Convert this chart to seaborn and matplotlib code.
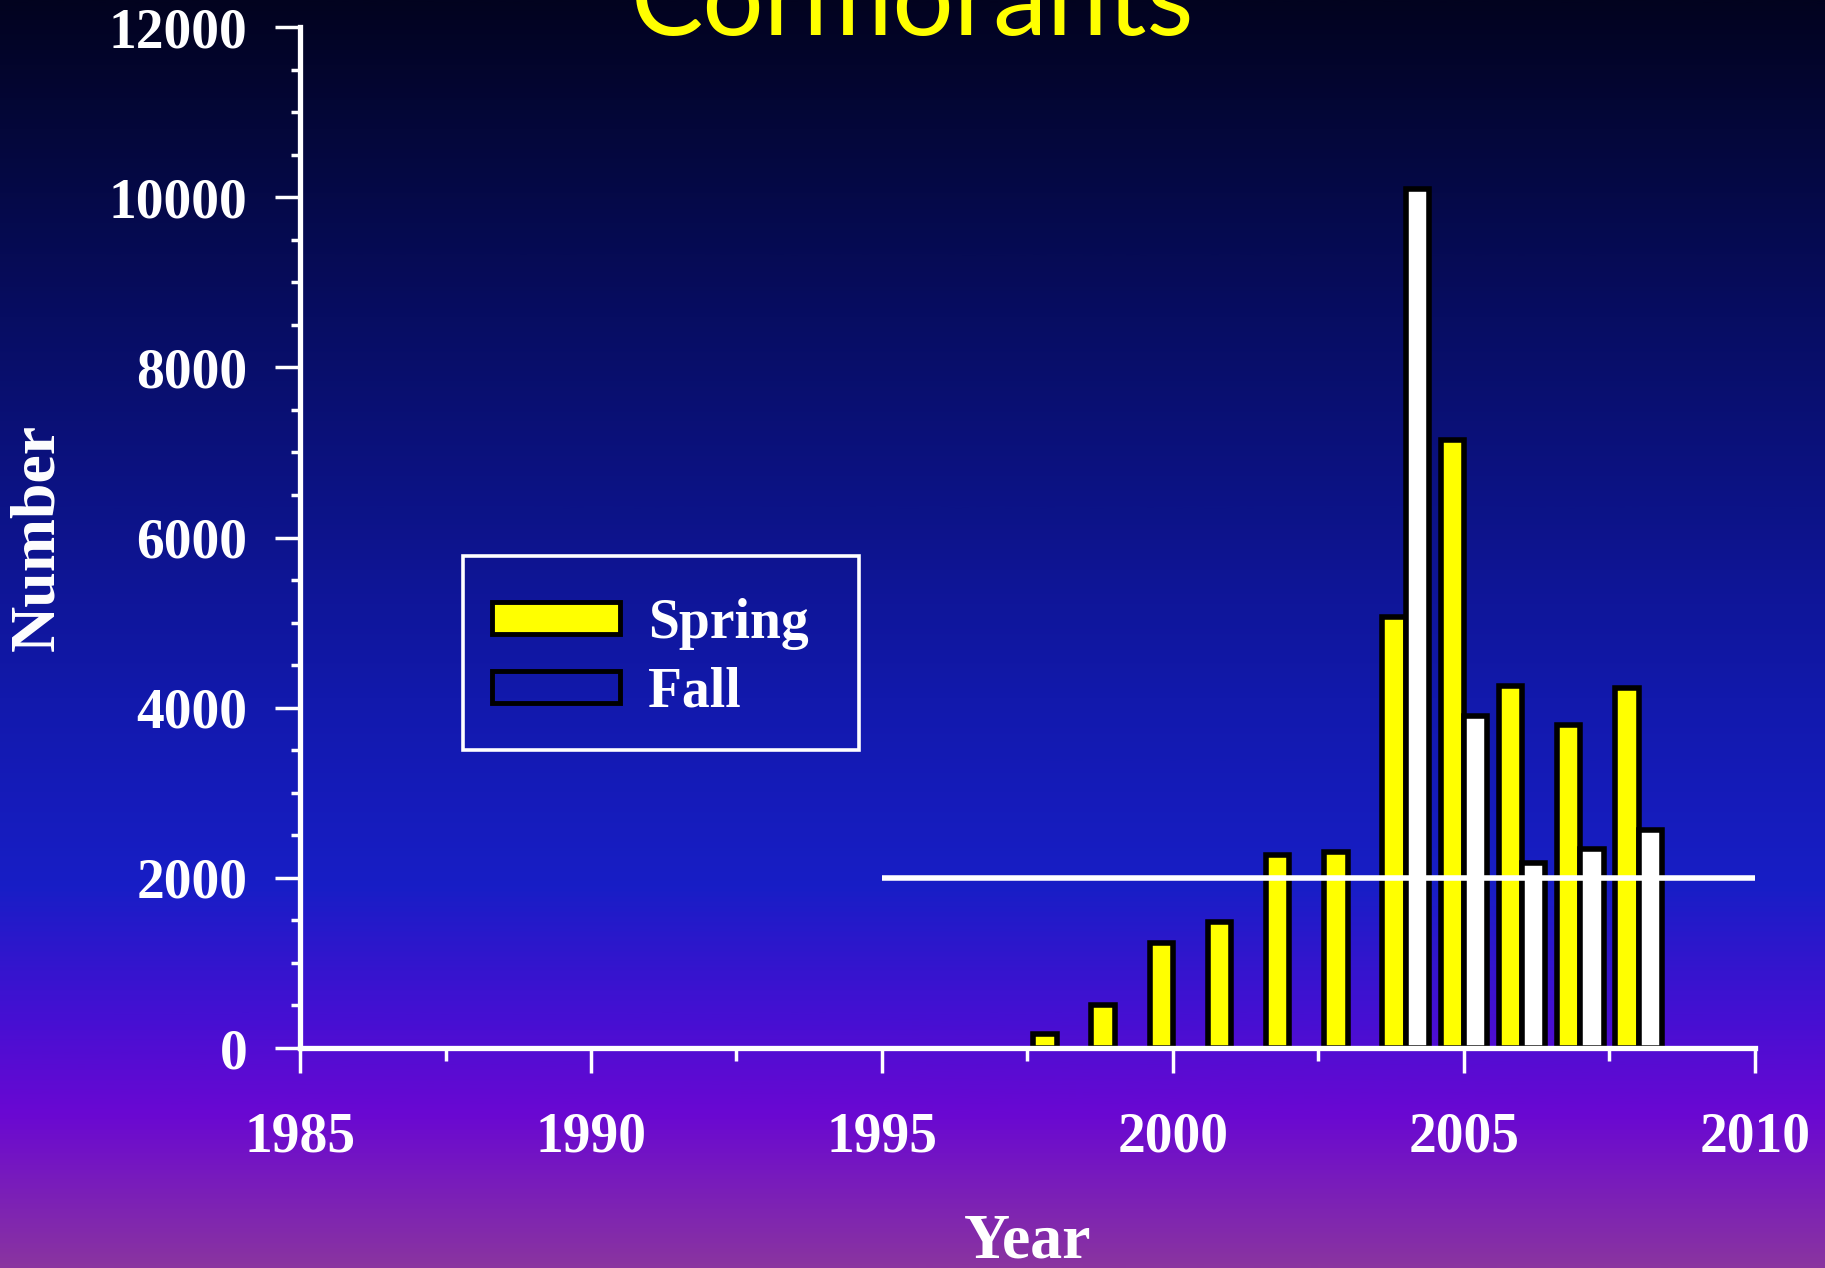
import numpy as np
import pandas as pd
import seaborn as sns
import matplotlib.pyplot as plt
from matplotlib.colors import LinearSegmentedColormap
from matplotlib.patches import Patch, Rectangle
from matplotlib.ticker import MultipleLocator

# Data
spring_years = [1998, 1999, 2000, 2001, 2002, 2003, 2004, 2005, 2006, 2007, 2008]
spring_counts = [160, 510, 1230, 1480, 2270, 2300, 5060, 7150, 4260, 3800, 4230]
fall_years = [2004, 2005, 2006, 2007, 2008]
fall_counts = [10100, 3900, 2170, 2340, 2560]

threshold = 2000
threshold_start, threshold_end = 1995, 2010

df = pd.concat([
    pd.DataFrame({"year": spring_years, "count": spring_counts, "season": "Spring"}),
    pd.DataFrame({"year": fall_years, "count": fall_counts, "season": "Fall"}),
], ignore_index=True)

sns.set_style("ticks")
plt.rcParams["font.family"] = ["Liberation Serif", "DejaVu Serif"]
plt.rcParams["font.weight"] = "bold"

fig = plt.figure(figsize=(18.25, 12.68), dpi=100)

# Gradient background
bg = fig.add_axes([0, 0, 1, 1], zorder=-10)
stops = [(0.0, "#02031f"), (0.25, "#070d62"), (0.55, "#1219ac"),
         (0.70, "#181ec6"), (0.80, "#4410d2"), (0.88, "#6a08d2"), (1.0, "#8a34a0")]
cmap = LinearSegmentedColormap.from_list("bg", stops)
grad = np.linspace(0, 1, 512).reshape(-1, 1)
bg.imshow(grad, aspect="auto", cmap=cmap, extent=[0, 1, 0, 1], origin="upper")
bg.set_axis_off()

ax = fig.add_axes([0.1644, 0.1735, 0.7972, 0.8052])
ax.set_facecolor("none")

sns.barplot(data=df, x="year", y="count", hue="season", hue_order=["Spring", "Fall"],
            palette={"Spring": "#ffff00", "Fall": "#ffffff"}, native_scale=True,
            dodge=True, width=0.8, saturation=1, errorbar=None,
            edgecolor="black", linewidth=4, legend=False, ax=ax)

ax.hlines(threshold, threshold_start, threshold_end, color="white", linewidth=4, zorder=5)

ax.set_xlim(1985, 2010)
ax.set_ylim(0, 12000)
ax.xaxis.set_major_locator(MultipleLocator(5))
ax.xaxis.set_minor_locator(MultipleLocator(2.5))
ax.yaxis.set_major_locator(MultipleLocator(2000))
ax.yaxis.set_minor_locator(MultipleLocator(500))

for side in ["top", "right"]:
    ax.spines[side].set_visible(False)
for side in ["left", "bottom"]:
    ax.spines[side].set_color("white")
    ax.spines[side].set_linewidth(3.8)

ax.tick_params(axis="both", which="both", bottom=True, left=True, top=False, right=False)
ax.tick_params(axis="both", which="major", direction="out", color="white",
               length=18, width=2.5, labelcolor="white", labelsize=40)
ax.tick_params(axis="x", which="major", pad=28)
ax.tick_params(axis="y", which="major", pad=20)
ax.tick_params(axis="x", which="minor", direction="out", color="white", length=9, width=2.5)
ax.tick_params(axis="y", which="minor", direction="out", color="white", length=6.5, width=2.5)
for lab in ax.get_xticklabels() + ax.get_yticklabels():
    lab.set_fontweight("bold")

ax.set_xlabel("Year", fontsize=46, fontweight="bold", color="white")
ax.set_ylabel("Number", fontsize=46, fontweight="bold", color="white")
ax.xaxis.set_label_coords(0.5, -0.162)
ax.yaxis.set_label_coords(-0.16, 0.5)

# Legend frame drawn separately, legend entries placed inside it
ax.add_patch(Rectangle((0.112, 0.292), 0.272, 0.19, transform=ax.transAxes,
                       facecolor="none", edgecolor="white", linewidth=2.6,
                       clip_on=False, zorder=6))
handles = [Patch(facecolor="#ffff00", edgecolor="black", linewidth=3.5, label="Spring"),
           Patch(facecolor="none", edgecolor="black", linewidth=3.5, label="Fall")]
leg = ax.legend(handles=handles, loc="upper left", bbox_to_anchor=(0.132, 0.441),
                fontsize=40, frameon=False, handlelength=2.3,
                handleheight=0.5, handletextpad=0.5, labelspacing=0.3,
                borderpad=0, borderaxespad=0)
for t in leg.get_texts():
    t.set_color("white")
    t.set_fontweight("bold")

fig.text(0.5, 1 - 35 / 1268, "Cormorants", ha="center", va="baseline",
         color="#ffff00", fontsize=78, fontweight="normal",
         family=["Lato", "DejaVu Sans"])

fig.savefig("out.png", dpi=100)
